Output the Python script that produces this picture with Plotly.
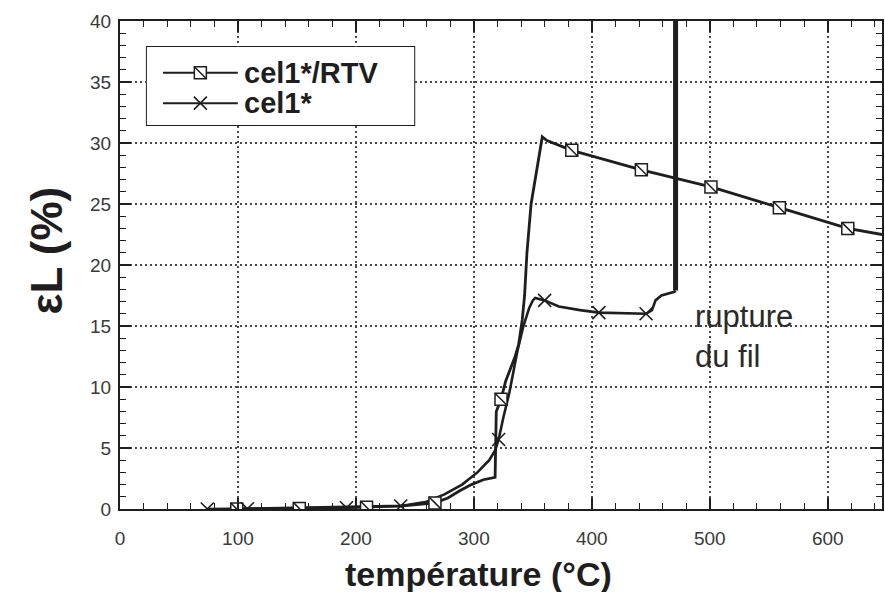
import plotly.graph_objects as go

# ---- data: longitudinal strain (%) vs temperature (°C) ----
# cel1*/RTV
rtv_T = [99, 130, 152, 180, 209, 240, 267, 278, 288, 298, 308, 316, 318, 319, 323,
         327, 331, 335, 338, 341, 343, 345, 348.5, 351, 353, 356, 358, 362,
         383, 442, 501, 559, 617, 646]
rtv_E = [0.0, 0.05, 0.05, 0.1, 0.15, 0.25, 0.5, 0.9, 1.5, 2.0, 2.4, 2.6, 2.6, 8.0, 9.0,
         10.5, 11.5, 12.5, 13.5, 15.5, 17.5, 21.0, 25.0, 26.5, 27.5, 29.5, 30.5, 30.2,
         29.4, 27.8, 26.4, 24.7, 23.0, 22.5]
rtv_mark_T = [99, 152, 209, 267, 323, 383, 442, 501, 559, 617]
rtv_mark_E = [0.0, 0.05, 0.15, 0.5, 9.0, 29.4, 27.8, 26.4, 24.7, 23.0]

# cel1* (wire breaks at ~471 °C)
cel_T = [74, 108, 150, 192, 238, 260, 275, 290, 303, 313, 318, 321, 325, 330, 334,
         337, 342, 347, 350, 352, 360, 372, 390, 406, 446, 451, 454, 459, 470, 471, 471]
cel_E = [0.0, 0.02, 0.05, 0.1, 0.25, 0.6, 1.2, 2.0, 3.0, 4.0, 4.8, 5.7, 7.5, 9.5, 11.5,
         13.0, 15.0, 16.5, 17.1, 17.3, 17.1, 16.6, 16.3, 16.1, 16.0, 16.3, 17.1, 17.5,
         17.8, 17.9, 45.0]
cel_mark_T = [74, 108, 192, 238, 321, 360, 406, 446]
cel_mark_E = [0.0, 0.02, 0.1, 0.25, 5.7, 17.1, 16.1, 16.0]

x_ticks = [0, 100, 200, 300, 400, 500, 600]
y_ticks = [0, 5, 10, 15, 20, 25, 30, 35, 40]
x_minor = [v for v in range(0, 647, 20) if v % 100]
y_minor = [v for v in range(0, 41) if v % 5]

series_names = ["cel1*/RTV", "cel1*"]

INK = "#1e1e1e"
SANS = "Liberation Sans, Arial, sans-serif"
TICK_FONT = dict(family=SANS, size=19, color="#3a3a3a")

fig = go.Figure()

# curves
fig.add_trace(go.Scatter(x=rtv_T, y=rtv_E, mode="lines",
                         line=dict(color=INK, width=2.8), showlegend=False))
fig.add_trace(go.Scatter(x=cel_T[:-1], y=cel_E[:-1], mode="lines",
                         line=dict(color=INK, width=2.6), showlegend=False))
# rupture of the wire: thick vertical stroke
fig.add_trace(go.Scatter(x=cel_T[-2:], y=cel_E[-2:], mode="lines",
                         line=dict(color=INK, width=5), showlegend=False))

# markers
fig.add_trace(go.Scatter(x=rtv_mark_T, y=rtv_mark_E, mode="markers",
                         marker=dict(symbol="square", size=12, color="white",
                                     line=dict(color=INK, width=1.5)),
                         showlegend=False))
fig.add_trace(go.Scatter(x=rtv_mark_T, y=rtv_mark_E, mode="markers",
                         marker=dict(symbol="line-nw", size=12, color=INK,
                                     line=dict(color=INK, width=1.5)),
                         showlegend=False))
fig.add_trace(go.Scatter(x=cel_mark_T, y=cel_mark_E, mode="markers",
                         marker=dict(symbol="x-thin", size=13, color=INK,
                                     line=dict(color=INK, width=1.6)),
                         showlegend=False))

# ---- hand-drawn legend on an inset axis ----
leg_y = [0.67, 0.28]
for yy in leg_y:
    fig.add_trace(go.Scatter(x=[0.06, 0.34], y=[yy, yy], mode="lines",
                             line=dict(color=INK, width=2), xaxis="x2", yaxis="y2",
                             showlegend=False))
fig.add_trace(go.Scatter(x=[0.2], y=[leg_y[0]], mode="markers", xaxis="x2", yaxis="y2",
                         marker=dict(symbol="square", size=12, color="white",
                                     line=dict(color=INK, width=1.5)), showlegend=False))
fig.add_trace(go.Scatter(x=[0.2], y=[leg_y[0]], mode="markers", xaxis="x2", yaxis="y2",
                         marker=dict(symbol="line-nw", size=12, color=INK,
                                     line=dict(color=INK, width=1.5)), showlegend=False))
fig.add_trace(go.Scatter(x=[0.2], y=[leg_y[1]], mode="markers", xaxis="x2", yaxis="y2",
                         marker=dict(symbol="x-thin", size=13, color=INK,
                                     line=dict(color=INK, width=1.6)), showlegend=False))
for name, yy in zip(series_names, leg_y):
    fig.add_annotation(x=0.355, y=yy, xref="x2", yref="y2", text=name, showarrow=False,
                       xanchor="left", yanchor="middle",
                       font=dict(family=SANS, size=29, color=INK, weight="bold"))

# annotation for the wire rupture
fig.add_annotation(x=486, y=17.4, xref="x", yref="y", text="rupture<br>du fil",
                   showarrow=False, xanchor="left", yanchor="top", align="left",
                   font=dict(family=SANS, size=31, color="#2a2a2a"))

# axis titles
fig.add_annotation(x=0.471, y=0, xref="paper", yref="paper", yshift=-44,
                   text="température (°C)", showarrow=False, xanchor="center",
                   yanchor="top",
                   font=dict(family=SANS, size=34, color=INK, weight="bold"))
fig.add_annotation(x=-0.097, y=0.53, xref="paper", yref="paper", textangle=-90,
                   text="εL (%)", showarrow=False, xanchor="center", yanchor="middle",
                   font=dict(family=SANS, size=44, color=INK, weight="bold"))

GRID_DASH = "2px,3px"
common_axis = dict(showline=True, linecolor=INK, linewidth=2, mirror="allticks",
                   ticks="inside", ticklen=11, tickwidth=1.5, tickcolor=INK,
                   showgrid=True, gridcolor="#4a4a4a", gridwidth=1.5,
                   griddash=GRID_DASH, zeroline=False, tickfont=TICK_FONT)
fig.update_layout(
    width=885, height=592,
    margin=dict(l=120, r=1, t=21, b=83),
    paper_bgcolor="white", plot_bgcolor="white",
    showlegend=False,
    xaxis=dict(range=[0, 646], tickmode="array", tickvals=x_ticks,
               ticktext=[str(v) for v in x_ticks], ticklabelstandoff=11,
               minor=dict(tickmode="array", tickvals=x_minor, ticks="inside",
                          ticklen=6, tickwidth=1.3, tickcolor=INK, showgrid=False),
               **common_axis),
    yaxis=dict(range=[0, 40], tickmode="array", tickvals=y_ticks,
               ticktext=[str(v) for v in y_ticks], ticklabelstandoff=3,
               minor=dict(tickmode="array", tickvals=y_minor, ticks="inside",
                          ticklen=6, tickwidth=1.3, tickcolor=INK, showgrid=False),
               **common_axis),
    xaxis2=dict(domain=[0.0353, 0.3861], range=[0, 1], visible=False, fixedrange=True),
    yaxis2=dict(domain=[0.7869, 0.9467], range=[0, 1], visible=False, fixedrange=True,
                anchor="x2"),
    shapes=[dict(type="rect", xref="x2 domain", yref="y2 domain", x0=0, x1=1, y0=0, y1=1,
                 line=dict(color=INK, width=2), fillcolor="white", layer="below")],
)

fig.write_html("out.html")
